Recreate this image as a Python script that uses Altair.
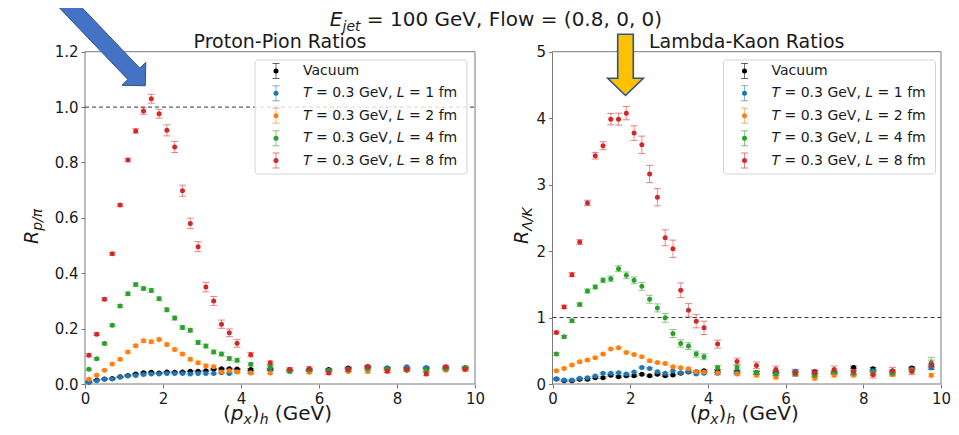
import altair as alt
import pandas as pd

FONT = "DejaVu Sans"
TXT = "#1a1a1a"
FRAME = "#7a7a7a"
OFF = 8  # page margin -> view coordinates

# ---------------- data ----------------
X_VALS = [0.1, 0.3, 0.5, 0.7, 0.9, 1.1, 1.3, 1.5, 1.7, 1.9, 2.1, 2.3, 2.5, 2.7, 2.9,
          3.1, 3.3, 3.5, 3.7, 3.9, 4.25, 4.75, 5.25, 5.75, 6.25, 6.75, 7.25, 7.75,
          8.25, 8.75, 9.25, 9.75]

SERIES = ["Vacuum", "L1", "L2", "L4", "L8"]
COLORS = ["#000000", "#1f77b4", "#ff7f0e", "#2ca02c", "#d62728"]
L_VALUES = ["1", "2", "4", "8"]

# Proton-Pion ratios
pp_vac = [0.008, 0.014, 0.018, 0.020, 0.026, 0.031, 0.036, 0.041, 0.042, 0.040, 0.043, 0.042, 0.043, 0.046, 0.046,
          0.048, 0.053, 0.055, 0.055, 0.054, 0.052, 0.052, 0.050, 0.050, 0.052, 0.058, 0.062, 0.058, 0.055, 0.057,
          0.060, 0.058]
pp_L1 = [0.005, 0.012, 0.017, 0.018, 0.024, 0.029, 0.031, 0.034, 0.036, 0.036, 0.038, 0.038, 0.038, 0.036, 0.038,
         0.038, 0.038, 0.041, 0.038, 0.044, 0.041, 0.055, 0.050, 0.052, 0.050, 0.055, 0.058, 0.057, 0.062, 0.060,
         0.055, 0.057]
pp_L2 = [0.017, 0.032, 0.050, 0.072, 0.089, 0.116, 0.138, 0.156, 0.153, 0.161, 0.143, 0.125, 0.108, 0.089, 0.077,
         0.066, 0.062, 0.043, 0.048, 0.043, 0.040, 0.040, 0.048, 0.042, 0.045, 0.045, 0.045, 0.045, 0.050, 0.045,
         0.050, 0.052]
pp_L4 = [0.053, 0.091, 0.146, 0.212, 0.282, 0.326, 0.359, 0.345, 0.338, 0.308, 0.268, 0.238, 0.204, 0.194, 0.150,
         0.137, 0.116, 0.108, 0.092, 0.086, 0.071, 0.062, 0.045, 0.050, 0.048, 0.050, 0.055, 0.053, 0.050, 0.050,
         0.055, 0.060]
pp_L8 = [0.104, 0.180, 0.306, 0.470, 0.646, 0.809, 0.914, 0.986, 1.030, 0.976, 0.916, 0.856, 0.698, 0.580, 0.496,
         0.350, 0.300, 0.216, 0.185, 0.147, 0.106, 0.077, 0.053, 0.056, 0.040, 0.053, 0.062, 0.047, 0.054, 0.036,
         0.062, 0.053]

pp_vac_err = [0.002] * 20 + [0.003] * 12
pp_L1_err = [0.002] * 20 + [0.003] * 12
pp_L2_err = [0.003, 0.003, 0.003, 0.004, 0.004, 0.004, 0.005, 0.005, 0.005, 0.005, 0.005, 0.005, 0.005, 0.005, 0.005,
             0.005, 0.005, 0.005, 0.005, 0.005, 0.004] + [0.004] * 11
pp_L4_err = [0.004, 0.004, 0.005, 0.005, 0.005, 0.006, 0.006, 0.006, 0.007, 0.007, 0.007, 0.007, 0.007, 0.007, 0.007,
             0.007, 0.007, 0.007, 0.007, 0.007, 0.006] + [0.005] * 11
pp_L8_err = [0.005, 0.005, 0.005, 0.005, 0.005, 0.006, 0.008, 0.012, 0.016, 0.016, 0.020, 0.020, 0.020, 0.019, 0.018,
             0.017, 0.016, 0.015, 0.014, 0.014, 0.008] + [0.006] * 11

# Lambda-Kaon ratios
lk_vac = [0.075, 0.050, 0.050, 0.070, 0.070, 0.095, 0.095, 0.130, 0.110, 0.125, 0.125, 0.145, 0.125, 0.145, 0.125,
          0.135, 0.160, 0.180, 0.185, 0.200, 0.190, 0.180, 0.170, 0.180, 0.170, 0.180, 0.170, 0.250, 0.230, 0.190,
          0.240, 0.280]
lk_L1 = [0.075, 0.060, 0.060, 0.085, 0.095, 0.120, 0.160, 0.160, 0.170, 0.150, 0.180, 0.250, 0.235, 0.185, 0.160,
         0.195, 0.170, 0.185, 0.150, 0.160, 0.160, 0.170, 0.160, 0.150, 0.190, 0.160, 0.170, 0.180, 0.200, 0.170,
         0.220, 0.240]
lk_L2 = [0.200, 0.235, 0.285, 0.335, 0.360, 0.395, 0.450, 0.525, 0.545, 0.475, 0.445, 0.410, 0.350, 0.325, 0.310,
         0.260, 0.245, 0.230, 0.185, 0.180, 0.170, 0.150, 0.130, 0.100, 0.160, 0.085, 0.130, 0.130, 0.150, 0.140,
         0.210, 0.130]
lk_L4 = [0.450, 0.710, 0.950, 1.195, 1.400, 1.460, 1.560, 1.585, 1.735, 1.635, 1.560, 1.470, 1.275, 1.145, 0.995,
         0.760, 0.610, 0.570, 0.450, 0.410, 0.250, 0.250, 0.170, 0.150, 0.150, 0.130, 0.180, 0.160, 0.170, 0.160,
         0.200, 0.320]
lk_L8 = [0.775, 1.160, 1.645, 2.135, 2.725, 3.435, 3.585, 3.985, 3.985, 4.075, 3.775, 3.600, 3.160, 2.810, 2.200,
         2.035, 1.410, 1.110, 0.945, 0.845, 0.600, 0.340, 0.280, 0.220, 0.170, 0.170, 0.220, 0.190, 0.140, 0.200,
         0.190, 0.290]

lk_vac_err = [0.012] * 20 + [0.02] * 12
lk_L1_err = [0.012] * 20 + [0.02] * 12
lk_L2_err = [0.015] * 20 + [0.025] * 12
lk_L4_err = [0.02, 0.02, 0.025, 0.025, 0.03, 0.03, 0.035, 0.04, 0.045, 0.05, 0.05, 0.06, 0.06, 0.06, 0.065,
             0.06, 0.055, 0.05, 0.045, 0.045, 0.03, 0.03, 0.03, 0.03, 0.03, 0.03, 0.03, 0.03, 0.03, 0.03, 0.04, 0.08]
lk_L8_err = [0.02, 0.025, 0.03, 0.035, 0.04, 0.05, 0.06, 0.085, 0.09, 0.10, 0.11, 0.13, 0.13, 0.13, 0.12,
             0.13, 0.11, 0.10, 0.10, 0.10, 0.06] + [0.05] * 10 + [0.07]

X_TICKS = [0, 2, 4, 6, 8, 10]
PP_TICKS = [0.0, 0.2, 0.4, 0.6, 0.8, 1.0, 1.2]
LK_TICKS = [0, 1, 2, 3, 4, 5]


def make_df(vals_list, errs_list):
    rows = []
    for name, vals, errs in zip(SERIES, vals_list, errs_list):
        for x, v, e in zip(X_VALS, vals, errs):
            rows.append(dict(series=name, x=x, y=v, lo=v - e, hi=v + e))
    return pd.DataFrame(rows)


df_pp = make_df([pp_vac, pp_L1, pp_L2, pp_L4, pp_L8], [pp_vac_err, pp_L1_err, pp_L2_err, pp_L4_err, pp_L8_err])
df_lk = make_df([lk_vac, lk_L1, lk_L2, lk_L4, lk_L8], [lk_vac_err, lk_L1_err, lk_L2_err, lk_L4_err, lk_L8_err])

ONE = pd.DataFrame({"a": [0]})
COLOR = alt.Color("series:N", scale=alt.Scale(domain=SERIES, range=COLORS), legend=None)
CAP = "M-1,0L1,0"

# --------------- font metrics (DejaVu Sans advance widths, em) ---------------
W = {' ': 0.318, '(': 0.390, ')': 0.390, 'p': 0.635, 'x': 0.592, 'h': 0.634, 'G': 0.776, 'e': 0.615,
     'V': 0.684, 'T': 0.611, '=': 0.838, '0': 0.636, '1': 0.636, '2': 0.636, '3': 0.636, '4': 0.636,
     '8': 0.636, '.': 0.318, ',': 0.318, 'L': 0.557, 'f': 0.352, 'm': 0.974, 'R': 0.695, '/': 0.337,
     'π': 0.602, 'Λ': 0.684, 'K': 0.656, 'E': 0.632, 'j': 0.278, 't': 0.392, 'F': 0.575, 'l': 0.278,
     'o': 0.612, 'w': 0.818}


def tw(s, size):
    return sum(W.get(c, 0.6) for c in s) * size


def txt(s, x, y, size, italic=False, align="left", baseline="alphabetic", angle=0, color=TXT):
    return alt.Chart(ONE).mark_text(
        text=s, font=FONT, fontSize=size, fontStyle="italic" if italic else "normal",
        align=align, baseline=baseline, angle=angle, color=color
    ).encode(x=alt.value(x), y=alt.value(y))


def run(pieces, x0, y0, baseline="alphabetic", vertical=False):
    """pieces: (text, size, italic, shift). Horizontal runs go right, vertical runs go up."""
    out = []
    pos = 0.0
    for s, size, italic, shift in pieces:
        lead = len(s) - len(s.lstrip(' '))
        trail = len(s) - len(s.rstrip(' '))
        core = s.strip(' ')
        pos += lead * W[' '] * size
        if vertical:
            out.append(txt(core, x0 + shift, y0 - pos, size, italic, "left", baseline, angle=270))
        else:
            out.append(txt(core, x0 + pos, y0 + shift, size, italic, "left", baseline))
        pos += tw(core, size) + trail * W[' '] * size
    return out


def run_width(pieces):
    return sum(tw(s, size) for s, size, _, _ in pieces)


# --------------- panels ---------------
Y_TOP, Y_BOT = 51.7 - OFF, 384 - OFF


def axis_common(**kw):
    return dict(grid=False, domain=False, title=None, labelFont=FONT, labelFontSize=15, labelColor=TXT,
                tickColor=FRAME, tickSize=4, tickWidth=1, labelPadding=3, labelFlush=False,
                labelOverlap=False, **kw)


def panel(df, xr, ymax, yticks, yfmt):
    xs = alt.Scale(domain=[0, 10], range=xr, nice=False, zero=False)
    ys = alt.Scale(domain=[0, ymax], range=[Y_BOT, Y_TOP], nice=False, zero=False)
    xa = alt.Axis(orient="bottom", values=X_TICKS, format="d", **axis_common())
    ya = alt.Axis(orient="left", values=yticks, format=yfmt, offset=-xr[0], **axis_common())

    def X(f):
        return alt.X(f, type="quantitative", scale=xs, axis=xa)

    def Y(f):
        return alt.Y(f, type="quantitative", scale=ys, axis=ya)

    frame = alt.Chart(ONE).mark_rect(fillOpacity=0, stroke=FRAME, strokeWidth=1).encode(
        x=alt.XDatum(0, type="quantitative", scale=xs, axis=xa), x2=alt.X2Datum(10),
        y=alt.YDatum(0, type="quantitative", scale=ys, axis=ya), y2=alt.Y2Datum(ymax))
    dash = alt.Chart(ONE).mark_rule(strokeDash=[4, 3], color="#333333", strokeWidth=1).encode(
        x=alt.XDatum(0, type="quantitative", scale=xs, axis=xa), x2=alt.X2Datum(10),
        y=alt.YDatum(1, type="quantitative", scale=ys, axis=ya))
    base = alt.Chart(df)
    bars = base.mark_rule(strokeWidth=1, opacity=0.5).encode(x=X("x"), y=Y("lo"), y2=alt.Y2("hi"), color=COLOR)
    cap_lo = base.mark_point(shape=CAP, filled=False, size=49, strokeWidth=1, opacity=0.55).encode(
        x=X("x"), y=Y("lo"), color=COLOR)
    cap_hi = base.mark_point(shape=CAP, filled=False, size=49, strokeWidth=1, opacity=0.55).encode(
        x=X("x"), y=Y("hi"), color=COLOR)
    dots = base.mark_circle(size=25, opacity=1).encode(x=X("x"), y=Y("y"), color=COLOR)
    return alt.layer(frame, dash, bars, cap_lo, cap_hi, dots)


XR_L = [85 - OFF, 475 - OFF]
XR_R = [552.5 - OFF, 941 - OFF]
left = panel(df_pp, XR_L, 1.2, PP_TICKS, ".1f")
right = panel(df_lk, XR_R, 5, LK_TICKS, "d")

# --------------- legends ---------------


def legend(bx0, by0, bx1, by1, sym_x, text_x, rows_y):
    layers = [alt.Chart(ONE).mark_rect(fill="white", fillOpacity=0.8, stroke="#d4d4d4", strokeWidth=1,
                                       cornerRadius=3).encode(
        x=alt.value(bx0), x2=alt.value(bx1), y=alt.value(by0), y2=alt.value(by1))]
    for i, (name, col) in enumerate(zip(SERIES, COLORS)):
        ry = rows_y[i]
        layers.append(alt.Chart(ONE).mark_rule(color=col, strokeWidth=1, opacity=0.55).encode(
            x=alt.value(sym_x), y=alt.value(ry - 7.5), y2=alt.value(ry + 7.5)))
        for cy in (ry - 7.5, ry + 7.5):
            layers.append(alt.Chart(ONE).mark_point(shape=CAP, filled=False, size=49, strokeWidth=1,
                                                    color=col, opacity=0.6).encode(
                x=alt.value(sym_x), y=alt.value(cy)))
        layers.append(alt.Chart(ONE).mark_circle(size=25, color=col, opacity=1).encode(
            x=alt.value(sym_x), y=alt.value(ry)))
        if i == 0:
            layers.append(txt("Vacuum", text_x, ry, 14, baseline="middle"))
        else:
            pieces = [("T", 14, True, 0), (" = 0.3 GeV, ", 14, False, 0), ("L", 14, True, 0),
                      (" = " + L_VALUES[i - 1] + " fm", 14, False, 0)]
            layers += run(pieces, text_x, ry, baseline="middle")
    return layers


ROWS = [71 - OFF, 93.3 - OFF, 115.7 - OFF, 138.3 - OFF, 160.5 - OFF]
leg_left = legend(255 - OFF, 60 - OFF, 467 - OFF, 174 - OFF, 276 - OFF, 303 - OFF, ROWS)
leg_right = legend(723.5 - OFF, 60 - OFF, 935.5 - OFF, 174 - OFF, 744.5 - OFF, 771.5 - OFF, ROWS)

# --------------- titles ---------------
annotations = []
sup = [("E", 20, True, 0), ("jet", 14, True, 5), (" = 100 GeV, Flow = (0.8, 0, 0)", 20, False, 0)]
cx = 500 - OFF
annotations += run(sup, cx - run_width(sup) / 2 - 4, 25.5 - OFF)

for title, c in [("Proton-Pion Ratios", (XR_L[0] + XR_L[1]) / 2), ("Lambda-Kaon Ratios", (XR_R[0] + XR_R[1]) / 2)]:
    annotations.append(txt(title, c, 47.5 - OFF, 19, align="center"))

xt = [("(", 20, False, 0), ("p", 20, True, 0), ("x", 14, True, 4), (")", 20, False, 0),
      ("h", 14, True, 4), (" (GeV)", 20, False, 0)]
for xr in (XR_L, XR_R):
    c = (xr[0] + xr[1]) / 2
    annotations += run(xt, c - (run_width(xt) + 5) / 2, 420 - OFF)

yl = [("R", 19, True, 0), ("p/π", 14, True, 4)]
annotations += run(yl, 37.5 - OFF, 244 - OFF, vertical=True)
yr = [("R", 19, True, 0), ("Λ/K", 14, True, 4)]
annotations += run(yr, 527.5 - OFF, 244 - OFF, vertical=True)

# --------------- arrows (decoration) ---------------


def arrow_layer(poly_page, anchor_page, fill, stroke, sw):
    U = 100.0
    ax, ay = anchor_page
    path = "M" + "L".join(f"{(px - ax) / U:.4f},{(py - ay) / U:.4f}" for px, py in poly_page) + "Z"
    return alt.Chart(ONE).mark_point(shape=path, size=(2 * U) ** 2, filled=True, fill=fill, stroke=stroke,
                                     strokeWidth=sw, opacity=1, fillOpacity=1).encode(
        x=alt.value(ax - OFF), y=alt.value(ay - OFF))


# blue diagonal arrow
B = (133.85, 73.85)
d = (0.6908, 0.7231)
n = (0.7231, -0.6908)


def pt(base, a, va, b=0.0, vb=(0, 0)):
    return (base[0] + a * va[0] + b * vb[0], base[1] + a * va[1] + b * vb[1])


far = pt(B, -140, d)
blue_poly = [pt(far, 8.25, n), pt(B, 8.25, n), pt(B, 16.5, n), pt(B, 16.5, d), pt(B, -16.5, n),
             pt(B, -8.25, n), pt(far, -8.25, n)]
blue_arrow = arrow_layer(blue_poly, B, "#4472C4", "#2F528F", 1)

# gold downward arrow
gold_poly = [(617.7, 34.3), (633.3, 34.3), (633.3, 78.3), (643.3, 78.3), (625.5, 95.5), (607.7, 78.3),
             (617.7, 78.3)]
gold_arrow = arrow_layer(gold_poly, (625.5, 65), "#FFC000", "#2F528F", 1.6)

chart = alt.layer(left, right, *leg_left, *leg_right, *annotations, blue_arrow, gold_arrow).resolve_scale(
    x="independent", y="independent"
).properties(
    width=943, height=Y_BOT, padding={"left": 0, "top": 0, "right": 0, "bottom": 435 - OFF - Y_BOT - OFF},
    autosize=alt.AutoSizeParams(type="none"), background="white"
).configure_view(stroke=None)

chart.save("out.html", embed_options={"renderer": "svg", "actions": False})
